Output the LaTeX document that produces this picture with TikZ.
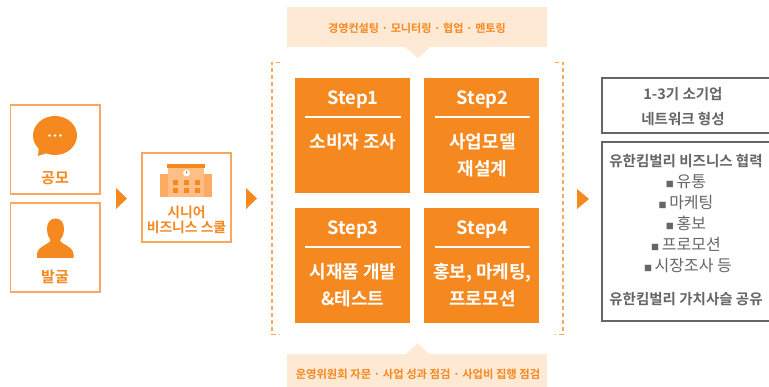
\documentclass[tikz,border=0pt]{standalone}
\usepackage{fontspec}
\setmainfont{Noto Sans CJK KR}[BoldFont={Noto Sans CJK KR Bold}]
\definecolor{org}{HTML}{F5881F}
\definecolor{orgl}{HTML}{FBA85C}
\definecolor{orgm}{HTML}{FDAA62}
\definecolor{orgp}{HTML}{FEBE85}
\definecolor{pale}{HTML}{FEE9D5}
\definecolor{graytxt}{HTML}{666666}
\newcommand{\sq}{{\fontsize{8}{8}\selectfont ■}\,}
\tikzset{
 obox/.style={draw=orgl,line width=1.6pt,fill=white},
 gbox/.style={draw=graytxt,line width=1.1pt,fill=white},
 stepbox/.style={fill=org,draw=none},
 banner/.style={fill=pale,draw=none},
 tri/.style={fill=org,draw=none},
 otext/.style={text=org,font=\bfseries\fontsize{15}{17}\selectfont,align=center},
 steptitle/.style={text=white,font=\bfseries\fontsize{18.3}{20}\selectfont},
 steptext/.style={text=white,font=\bfseries\fontsize{18}{27}\selectfont,align=center},
 gtext/.style={text=graytxt,font=\bfseries\fontsize{14.5}{16}\selectfont},
 gplain/.style={text=graytxt,font=\fontsize{16}{18}\selectfont,text height=13pt,text depth=3pt},
 bannertext/.style={text=org,font=\bfseries\fontsize{11.1}{13}\selectfont},
 rulew/.style={draw=white,line width=1.1pt},
 dashline/.style={draw=orgl,line width=1.4pt,dash pattern=on 4pt off 3pt},
}
\begin{document}
\begin{tikzpicture}[x=1pt,y=-1pt]
\useasboundingbox (0,0) rectangle (769,387);
% left boxes
\draw[obox] (10.5,105) rectangle (100,194);
\draw[obox] (10.5,203) rectangle (100,292);
\draw[obox] (142,153) rectangle (231,242);
% bubble
\fill[org] (55,135.5) ellipse [x radius=22,y radius=19.5];
\fill[org] (39,146) -- (38,156) -- (50,152) -- cycle;
\fill[white] (49.5,135.5) circle (1.4) (55,135.5) circle (1.4) (60.5,135.5) circle (1.4);
\node[otext] (gm) at (55,178) {공모};
% person
\fill[org] (55.5,218.5) .. controls (50,218.5) and (47,223) .. (47,229) .. controls (47,234) and (49,238) .. (50.5,240) .. controls (50.5,244) and (37.5,246) .. (37,254) -- (37,258) -- (73.5,258) -- (73.5,254) .. controls (73,246) and (60,244) .. (60,240) .. controls (62,238) and (64,234) .. (64,229) .. controls (64,223) and (61,218.5) .. (55.5,218.5) -- cycle;
\node[otext] (bg) at (55,277) {발굴};
% school
\fill[orgm] (160,174) rectangle (212,197);
\fill[orgp] (168,167) rectangle (204,197);
\fill[org] (167,164) rectangle (205,168);
\fill[white] (186.5,173) circle (3.5);
\fill[org] (186.2,171) rectangle (186.8,173.4) (186.2,172.9) rectangle (188,173.4);
\foreach \cx in {175.5,186.5,197.5}{
 \foreach \cy in {183,191}{\fill[org] (\cx-2.5,\cy-2.5) rectangle (\cx+2.5,\cy+2.5);}}
\node[otext,font=\bfseries\fontsize{13.8}{15}\selectfont] (sch) at (186.5,220) {시니어\\비즈니스 스쿨};
% arrows
\coordinate (a1) at (116,188); \coordinate (a2) at (246,188); \coordinate (a3) at (577,189);
\fill[tri] (a1) -- ++(11,10.5) -- ++(-11,10.5) -- cycle;
\fill[tri] (a2) -- ++(11,10.5) -- ++(-11,10.5) -- cycle;
\fill[tri] (a3) -- ++(12,10) -- ++(-12,10) -- cycle;
% banners
\fill[banner] (287,7) rectangle (547,47);
\fill[banner] (405,47) -- (418,58) -- (430,47) -- cycle;
\node[bannertext] (tb) at (417,28.5) {경영컨설팅 · 모니터링 · 협업 · 멘토링};
\fill[banner] (287,354) rectangle (547,387);
\fill[banner] (406,354) -- (417.5,343) -- (429,354) -- cycle;
\node[bannertext,font=\bfseries\fontsize{11.3}{13}\selectfont] (bb) at (418,374.5) {운영위원회 자문 · 사업 성과 점검 · 사업비 집행 점검};
% brackets
\draw[dashline] (280,62.5) -- (272,62.5) -- (272,334.5) -- (280,334.5);
\draw[dashline] (555,62.5) -- (563,62.5) -- (563,334.5) -- (555,334.5);
% steps
\fill[stepbox] (295,78) rectangle (410,193);
\fill[stepbox] (424,78) rectangle (539,193);
\fill[stepbox] (295,208) rectangle (410,323);
\fill[stepbox] (424,208) rectangle (539,323);
\node[steptitle] (s1) at (353,100) {Step1};
\node[steptitle] (s2) at (482.5,100) {Step2};
\node[steptitle] (s3) at (353,229.5) {Step3};
\node[steptitle] (s4) at (482.5,229.5) {Step4};
\draw[rulew] (305,117) -- (400.5,117);
\draw[rulew] (434.5,117) -- (530,117);
\draw[rulew] (305,247) -- (400.5,247);
\draw[rulew] (434.5,247) -- (530,247);
\node[steptext] (t1) at (353,142) {소비자 조사};
\node[steptext] (t2) at (482.5,155) {사업모델\\재설계};
\node[steptext] (t3) at (353,285) {시재품 개발\\\&테스트};
\node[steptext] (t4) at (482.5,285) {홍보, 마케팅,\\프로모션};
% right
\draw[gbox] (602,78) rectangle (772,133);
\node[gtext] (r1) at (683,94) {1-3기 소기업};
\node[gtext] (r2) at (683,119) {네트워크 형성};
\draw[gbox] (602,142) rectangle (772,321);
\node[gtext] (r3) at (686,161) {유한킴벌리 비즈니스 협력};
\node[gplain] (r4) at (686,182.5) {\sq 유통};
\node[gplain] (r5) at (686,203.5) {\sq 마케팅};
\node[gplain] (r6) at (686,224.5) {\sq 홍보};
\node[gplain] (r7) at (686,245.5) {\sq 프로모션};
\node[gplain] (r8) at (688,266.5) {\sq 시장조사 등};
\node[gtext] (r9) at (686,299) {유한킴벌리 가치사슬 공유};
\end{tikzpicture}
\end{document}
